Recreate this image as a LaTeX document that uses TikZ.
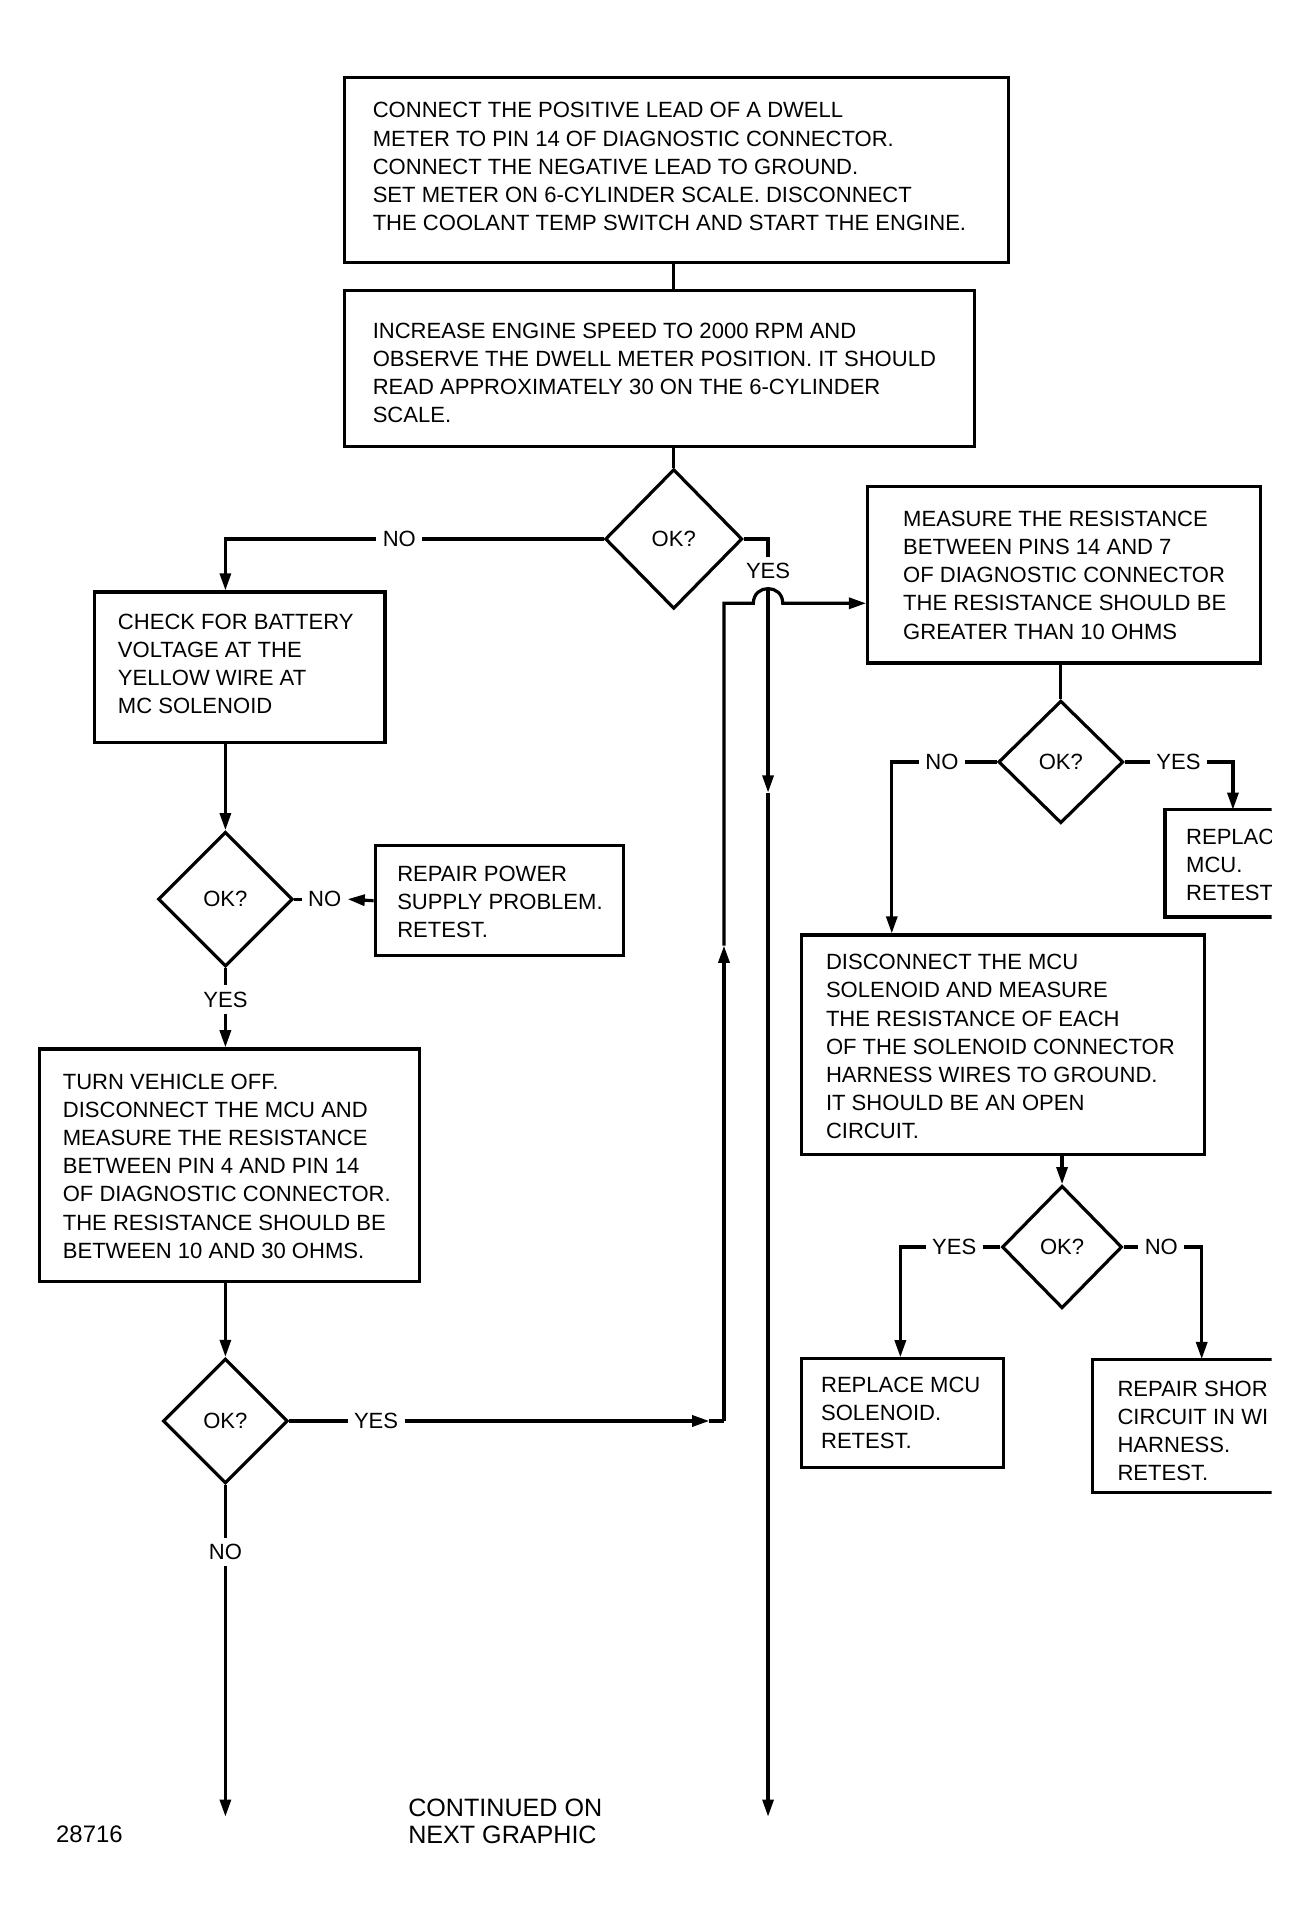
\documentclass[tikz,border=0pt]{standalone}
\usepackage{fontspec}
\setmainfont{Liberation Sans}
\usetikzlibrary{shapes.geometric,arrows.meta}
\begin{document}
\begin{tikzpicture}[x=1pt,y=-1pt,line width=2.6pt,
  box/.style={draw,rectangle,inner sep=0pt,anchor=north west},
  txt/.style={font=\fontsize{18}{23}\selectfont,align=left,inner sep=0pt,anchor=west},
  dia/.style={draw,diamond,inner sep=0pt,font=\fontsize{18}{23}\selectfont},
  lbl/.style={font=\fontsize{18}{23}\selectfont,inner sep=4pt},
  arr/.style={-{Triangle[length=14pt,width=9pt]}}]
\fill[white] (0,0) rectangle (1069.4,1568.2);
\useasboundingbox (0,0) rectangle (1069.4,1568.2);
\begin{scope}
\clip (0,0) rectangle (1038,1568.2);
% boxes
\node[box,minimum width=542pt,minimum height=151pt] (b1) at (280,62) {};
\node[txt] (t1) at (303,136) {CONNECT THE POSITIVE LEAD OF A DWELL\\METER TO PIN 14 OF DIAGNOSTIC CONNECTOR.\\CONNECT THE NEGATIVE LEAD TO GROUND.\\SET METER ON 6-CYLINDER SCALE. DISCONNECT\\THE COOLANT TEMP SWITCH AND START THE ENGINE.};
\node[box,minimum width=514pt,minimum height=127pt] (b2) at (280,236) {};
\node[txt] (t2) at (303,304.5) {INCREASE ENGINE SPEED TO 2000 RPM AND\\OBSERVE THE DWELL METER POSITION. IT SHOULD\\READ APPROXIMATELY 30 ON THE 6-CYLINDER\\SCALE.};
\node[box,minimum width=237pt,minimum height=123pt] (b3) at (76,482) {};
\node[txt] (t3) at (95,542) {CHECK FOR BATTERY\\VOLTAGE AT THE\\YELLOW WIRE AT\\MC SOLENOID};
\node[box,minimum width=321pt,minimum height=144pt] (b4) at (707,396) {};
\node[txt] (t4) at (736,469.5) {MEASURE THE RESISTANCE\\BETWEEN PINS 14 AND 7\\OF DIAGNOSTIC CONNECTOR\\THE RESISTANCE SHOULD BE\\GREATER THAN 10 OHMS};
\node[box,minimum width=203pt,minimum height=90pt] (b5) at (305,689) {};
\node[txt] (t5) at (323,736) {REPAIR POWER\\SUPPLY PROBLEM.\\RETEST.};
\node[box,minimum width=310pt,minimum height=190pt] (b6) at (31,855) {};
\node[txt] (t6) at (50,952) {TURN VEHICLE OFF.\\DISCONNECT THE MCU AND\\MEASURE THE RESISTANCE\\BETWEEN PIN 4 AND PIN 14\\OF DIAGNOSTIC CONNECTOR.\\THE RESISTANCE SHOULD BE\\BETWEEN 10 AND 30 OHMS.};
\node[box,minimum width=329pt,minimum height=179pt] (b7) at (653,762) {};
\node[txt] (t7) at (673,854.5) {DISCONNECT THE MCU\\SOLENOID AND MEASURE\\THE RESISTANCE OF EACH\\OF THE SOLENOID CONNECTOR\\HARNESS WIRES TO GROUND.\\IT SHOULD BE AN OPEN\\CIRCUIT.};
\node[box,draw=none,minimum width=87pt,minimum height=85pt] (b8) at (951,661) {};
\draw (b8.north east) -- (b8.north west) -- (b8.south west) -- (b8.south east);
\node[txt] (t8) at (967,706) {REPLAC\\MCU.\\RETEST};
\node[box,minimum width=165pt,minimum height=89pt] (b9) at (653,1108) {};
\node[txt] (t9) at (669,1153.5) {REPLACE MCU\\SOLENOID.\\RETEST.};
\node[box,draw=none,minimum width=146pt,minimum height=106.5pt] (b10) at (892,1109.5) {};
\draw (b10.north east) -- (b10.north west) -- (b10.south west) -- (b10.south east);
\node[txt] (t10) at (911,1168) {REPAIR SHOR\\CIRCUIT IN WI\\HARNESS.\\RETEST.};
% diamonds
\node[dia,minimum width=112pt,minimum height=114pt] (d1) at (550,440) {OK?};
\node[dia,minimum width=110pt,minimum height=110pt] (d2) at (184,734) {OK?};
\node[dia,minimum width=102pt,minimum height=102pt] (d3) at (184,1160) {OK?};
\node[dia,minimum width=102pt,minimum height=100pt] (d4) at (866,622) {OK?};
\node[dia,minimum width=98pt,minimum height=100pt] (d5) at (867,1018) {OK?};
% main column
\draw (b1.south -| d1.north) -- (b2.north -| d1.north);
\draw (b2.south -| d1.north) -- (d1.north);
\node[lbl] (n1) at (326,440) {NO};
\draw (d1.west) -- (n1.east);
\draw[arr] (n1.west) -| (d2.north |- b3.north);
\node[lbl] (y1) at (627,466) {YES};
\draw (d1.east) -| (y1.north);
\coordinate (v1) at (627,480.5);
\coordinate (v2) at (627,647);
\coordinate (v3) at (627,1483);
\draw[arr] (v1) -- (v2);
\draw[arr] (v2) -- (v3);
% left column
\draw[arr] (d2.north |- b3.south) -- (d2.north);
\node[lbl] (n2) at (265,734) {NO};
\draw (d2.east) -- (n2.west);
\draw[arr] (b5.west) -- (n2.east);
\node[lbl] (y2) at (184,816) {YES};
\draw (d2.south) -- (y2.north);
\draw[arr] (y2.south) -- (d2.south |- b6.north);
\draw[arr] (d3.north |- b6.south) -- (d3.north);
\node[lbl] (y3) at (307,1160) {YES};
\draw (d3.east) -- (y3.west);
\coordinate (a3) at (579,1160);
\coordinate (c3) at (591,1160);
\coordinate (a4) at (591,772);
\coordinate (j) at (591,492.5);
\coordinate (h1) at (615,492.5);
\coordinate (h2) at (639,492.5);
\draw[arr] (y3.east) -- (a3);
\draw (a3) -- (c3);
\draw[arr] (c3) -- (a4);
\draw[arr] (a4) -- (j) -- (h1) .. controls (615,476.5) and (639,476.5) .. (h2) -- (b4.west |- j);
\node[lbl] (n3) at (184,1267) {NO};
\draw (d3.south) -- (n3.north);
\coordinate (e3) at (184,1483);
\draw[arr] (n3.south) -- (e3);
% right column
\draw (b4.south -| d4.north) -- (d4.north);
\node[lbl] (n4) at (769,622) {NO};
\draw (d4.west) -- (n4.east);
\coordinate (k4) at (728,622);
\draw[arr] (n4.west) -- (k4) -- (k4 |- b7.north);
\node[lbl] (y4) at (962,622) {YES};
\draw (d4.east) -- (y4.west);
\coordinate (k5) at (1006.5,622);
\draw[arr] (y4.east) -- (k5) -- (k5 |- b8.north);
\draw[arr] (d5.north |- b7.south) -- (d5.north);
\node[lbl] (y5) at (779,1018) {YES};
\draw (d5.west) -- (y5.east);
\coordinate (k6) at (735,1018);
\draw[arr] (y5.west) -- (k6) -- (k6 |- b9.north);
\node[lbl] (n5) at (948,1018) {NO};
\draw (d5.east) -- (n5.west);
\coordinate (k7) at (981,1018);
\draw[arr] (n5.east) -- (k7) -- (k7 |- b10.north);
% footer
\node[txt,font=\fontsize{20.5}{22}\selectfont] (cont) at (332,1487) {CONTINUED ON\\NEXT GRAPHIC};
\node[font=\fontsize{19.5}{22}\selectfont,inner sep=0pt] (fig) at (73,1497) {28716};
\end{scope}
\end{tikzpicture}
\end{document}
